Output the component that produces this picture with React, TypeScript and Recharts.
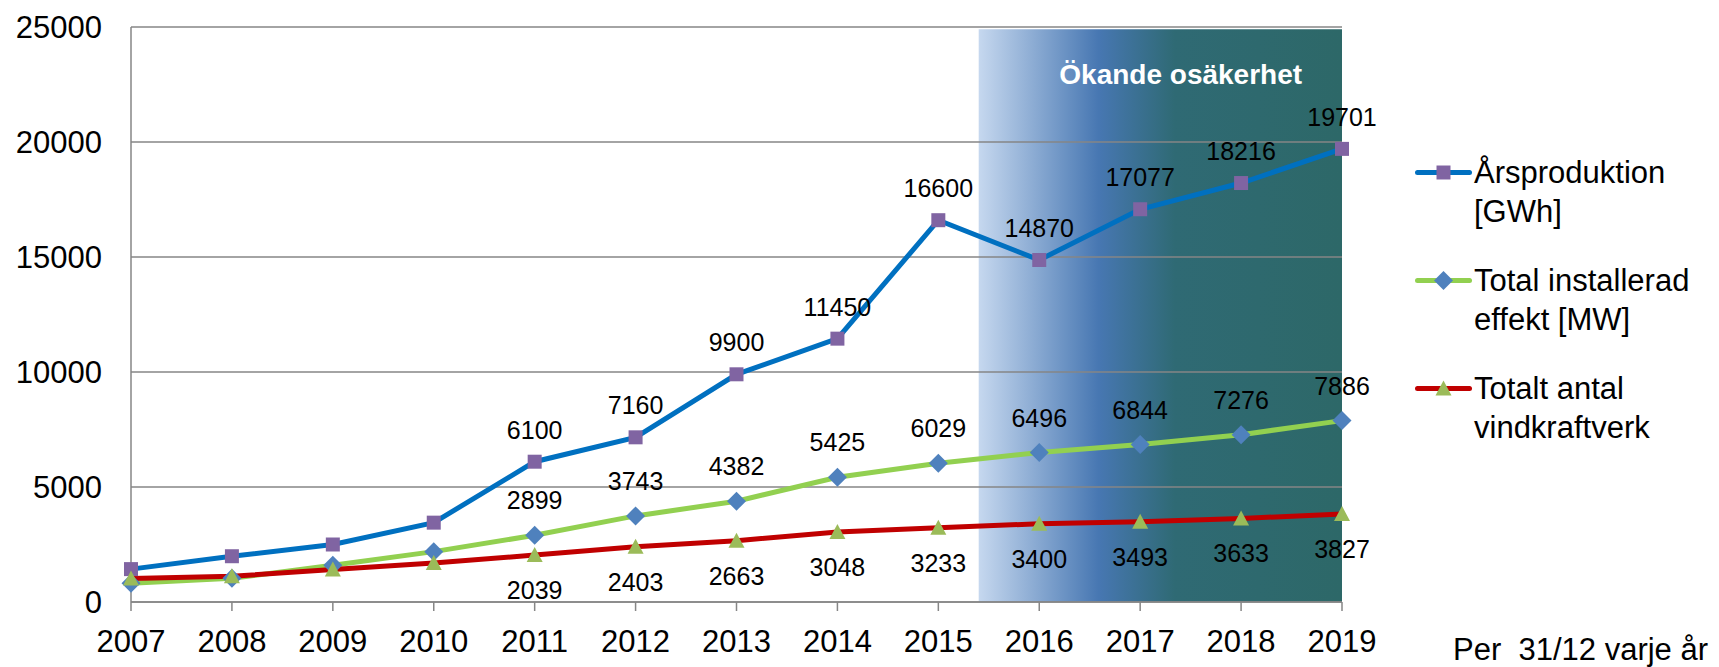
import React from 'react';
import { LineChart, Line, XAxis, YAxis, ReferenceArea, CartesianGrid, Legend, LabelList } from 'recharts';

const years = [2007, 2008, 2009, 2010, 2011, 2012, 2013, 2014, 2015, 2016, 2017, 2018, 2019];
const production = [1430, 1990, 2500, 3450, 6100, 7160, 9900, 11450, 16600, 14870, 17077, 18216, 19701];
const capacity = [810, 1030, 1600, 2190, 2899, 3743, 4382, 5425, 6029, 6496, 6844, 7276, 7886];
const turbines = [1020, 1120, 1410, 1700, 2039, 2403, 2663, 3048, 3233, 3400, 3493, 3633, 3827];
const yTicks = [0, 5000, 10000, 15000, 20000, 25000];
const seriesKeys = ['production', 'capacity', 'turbines'];
const seriesNames = ['Årsproduktion\n[GWh]', 'Total installerad\neffekt [MW]', 'Totalt antal\nvindkraftverk'];
const uncertaintyStart = 2015.4;
const uncertaintyEnd = 2019;
const uncertaintyLabel = 'Ökande osäkerhet';
const footnote = 'Per  31/12 varje år';
const labelFromIndex = 4;

const data = years.map((year, i) => ({
  year,
  production: production[i],
  capacity: capacity[i],
  turbines: turbines[i],
}));

const FONT = '"Liberation Sans", Arial, Helvetica, sans-serif';
const GRID = '#868686';

const C = {
  prodLine: '#0070c0',
  prodMark: '#8064a2',
  capLine: '#92d050',
  capMark: '#4f81bd',
  turbLine: '#c00000',
  turbMark: '#9bbb59',
};

const squarePath = (cx: number, cy: number) => `M${cx - 7},${cy - 7}h14v14h-14z`;
const diamondPath = (cx: number, cy: number) => `M${cx},${cy - 9.5}L${cx + 9.5},${cy}L${cx},${cy + 9.5}L${cx - 9.5},${cy}z`;
const trianglePath = (cx: number, cy: number) => `M${cx},${cy - 8}L${cx + 8},${cy + 7}L${cx - 8},${cy + 7}z`;

const makeDot = (pathFn: (x: number, y: number) => string, fill: string) => (p: any) => {
  if (p.cx == null || p.cy == null) return <g key={p.key ?? p.index} />;
  return <path key={p.key ?? p.index} d={pathFn(p.cx, p.cy)} fill={fill} />;
};

const makeLabel = (dy: number) => (props: any) => {
  const vb = props.viewBox || {};
  const x = props.x ?? vb.x;
  const y = props.y ?? vb.y;
  const index = props.index;
  if (index == null || index < labelFromIndex || x == null || y == null) return null;
  return (
    <text
      x={x}
      y={y + dy}
      textAnchor="middle"
      dominantBaseline="central"
      fontSize={25}
      fontFamily={FONT}
      fill="#000"
    >
      {props.value}
    </text>
  );
};

const markers: Record<string, { path: (x: number, y: number) => string; fill: string }> = {
  production: { path: squarePath, fill: C.prodMark },
  capacity: { path: diamondPath, fill: C.capMark },
  turbines: { path: trianglePath, fill: C.turbMark },
};

const renderLegend = (props: any) => {
  const payload = [...(props.payload || [])].sort(
    (a: any, b: any) => seriesKeys.indexOf(a.dataKey) - seriesKeys.indexOf(b.dataKey)
  );
  return (
    <div style={{ fontFamily: FONT, fontSize: 31, color: '#000' }}>
      {payload.map((entry: any, i: number) => {
        const m = markers[entry.dataKey] || markers.production;
        return (
          <div key={i} style={{ display: 'flex', alignItems: 'flex-start', marginBottom: i < payload.length - 1 ? 30 : 0 }}>
            <svg width={59} height={39} style={{ flex: 'none' }}>
              <line x1={2.5} y1={19.5} x2={54.5} y2={19.5} stroke={entry.color} strokeWidth={5} strokeLinecap="round" />
              <path d={m.path(28.5, 19.5)} fill={m.fill} />
            </svg>
            <div style={{ whiteSpace: 'pre-line', lineHeight: '39px' }}>{entry.value}</div>
          </div>
        );
      })}
    </div>
  );
};

const AreaLabel = (props: any) => {
  const vb = props.viewBox || {};
  if (vb.x == null) return null;
  return (
    <text
      x={vb.x + vb.width * 0.556}
      y={vb.y + 45}
      textAnchor="middle"
      dominantBaseline="central"
      fontSize={28}
      fontWeight="bold"
      fontFamily={FONT}
      fill="#ffffff"
    >
      {uncertaintyLabel}
    </text>
  );
};

export default function App() {
  return (
    <div style={{ position: 'absolute', left: 0, top: 0, width: 1719, height: 667, background: '#fff' }}>
      <LineChart
        width={1719}
        height={667}
        data={data}
        margin={{ top: 27, right: 377, bottom: 0, left: 0 }}
      >
        <defs>
          <linearGradient id="uncGrad" x1="0" y1="0" x2="1" y2="0">
            <stop offset="0" stopColor="#c6d8ef" />
            <stop offset="0.33" stopColor="#4777b2" />
            <stop offset="0.54" stopColor="#2f6a74" />
            <stop offset="1" stopColor="#2d6868" />
          </linearGradient>
        </defs>
        <ReferenceArea
          x1={uncertaintyStart}
          x2={uncertaintyEnd}
          y1={0}
          y2={24900}
          fill="url(#uncGrad)"
          fillOpacity={1}
          stroke="none"
          ifOverflow="visible"
          label={<AreaLabel />}
          {...({ zIndex: -200 } as any)}
        />
        <CartesianGrid horizontal vertical={false} stroke={GRID} strokeWidth={1.5} />
        <XAxis
          dataKey="year"
          type="number"
          domain={[2007, 2019]}
          ticks={years}
          interval={0}
          height={65}
          axisLine={{ stroke: GRID, strokeWidth: 1.5 }}
          tickLine={{ stroke: GRID, strokeWidth: 1.5 }}
          tickSize={9}
          tickMargin={19}
          tick={{ fontSize: 31, fontFamily: FONT, fill: '#000' }}
          allowDecimals={false}
        />
        <YAxis
          domain={[0, 25000]}
          ticks={yTicks}
          width={131}
          axisLine={{ stroke: GRID, strokeWidth: 1.5 }}
          tickLine={false}
          tickSize={0}
          tickMargin={29}
          tick={{ fontSize: 31, fontFamily: FONT, fill: '#000' }}
          interval={0}
        />
        <Legend
          layout="horizontal"
          verticalAlign="middle"
          align="center"
          itemSorter={null as any}
          content={renderLegend}
          wrapperStyle={{ position: 'absolute', left: 1415, top: 153, width: 304, height: 300 }}
        />
        <Line
          name={seriesNames[0]}
          dataKey="production"
          stroke={C.prodLine}
          strokeWidth={5}
          dot={makeDot(squarePath, C.prodMark)}
          activeDot={false}
          isAnimationActive={false}
        >
          <LabelList dataKey="production" content={makeLabel(-32)} />
        </Line>
        <Line
          name={seriesNames[1]}
          dataKey="capacity"
          stroke={C.capLine}
          strokeWidth={5}
          dot={makeDot(diamondPath, C.capMark)}
          activeDot={false}
          isAnimationActive={false}
        >
          <LabelList dataKey="capacity" content={makeLabel(-35)} />
        </Line>
        <Line
          name={seriesNames[2]}
          dataKey="turbines"
          stroke={C.turbLine}
          strokeWidth={5}
          dot={makeDot(trianglePath, C.turbMark)}
          activeDot={false}
          isAnimationActive={false}
        >
          <LabelList dataKey="turbines" content={makeLabel(35)} />
        </Line>
      </LineChart>
      <div
        style={{
          position: 'absolute',
          left: 1453,
          top: 631,
          fontFamily: FONT,
          fontSize: 31,
          lineHeight: '38px',
          color: '#000',
          whiteSpace: 'pre',
        }}
      >
        {footnote}
      </div>
    </div>
  );
}
